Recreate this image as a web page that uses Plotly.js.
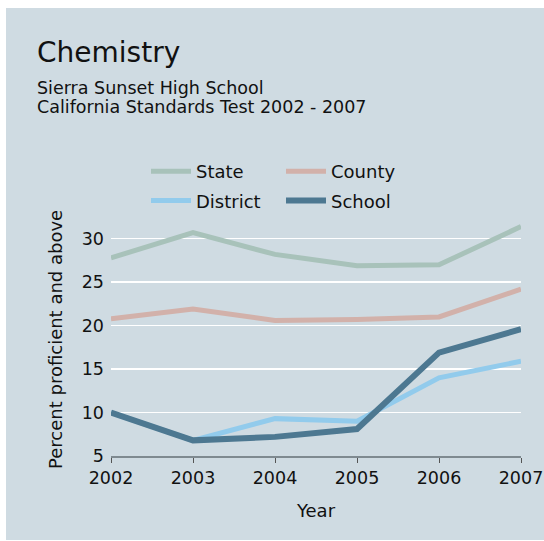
<!DOCTYPE html>
<html>
<head>
<meta charset="utf-8">
<script src="https://cdn.plot.ly/plotly-3.0.1.min.js"></script>
<style>
html,body{margin:0;padding:0;background:#ffffff;}
#chart{position:absolute;left:6px;top:8px;width:538px;height:532px;}
</style>
</head>
<body>
<div id="chart"></div>
<script>
const years = [2002, 2003, 2004, 2005, 2006, 2007];
const stateVals = [27.8, 30.7, 28.2, 26.9, 27.0, 31.4];
const countyVals = [20.8, 21.9, 20.6, 20.7, 21.0, 24.2];
const districtVals = [10.0, 6.8, 9.3, 9.0, 14.0, 15.9];
const schoolVals = [10.0, 6.8, 7.2, 8.1, 16.9, 19.6];
const seriesNames = ['State', 'County', 'District', 'School'];
const yTicks = [5, 10, 15, 20, 25, 30];

const colors = ['#a8c2ba', '#d2b1aa', '#92cbec', '#4d7891'];
const FONT = 'DejaVu Sans, sans-serif';

function tr(name, y, color, width, legend, group) {
  return {
    x: years, y: y, name: name, type: 'scatter', mode: 'lines',
    line: {color: color, width: width},
    legend: legend, legendgroup: group, hoverinfo: 'skip'
  };
}

const data = [
  tr(seriesNames[0], stateVals, colors[0], 5, 'legend', 'a'),
  tr(seriesNames[1], countyVals, colors[1], 5, 'legend2', 'c'),
  tr(seriesNames[2], districtVals, colors[2], 5, 'legend', 'b'),
  tr(seriesNames[3], schoolVals, colors[3], 6, 'legend2', 'd')
];

const legendBase = {
  xref: 'container', yref: 'container', xanchor: 'left', yanchor: 'top',
  bgcolor: 'rgba(0,0,0,0)', borderwidth: 0,
  font: {family: FONT, size: 18, color: '#111'},
  traceorder: 'grouped', tracegroupgap: 3, itemwidth: 40
};

const layout = {
  width: 538, height: 532,
  paper_bgcolor: '#cfdbe2', plot_bgcolor: '#cfdbe2',
  margin: {l: 105, r: 23, t: 209, b: 84, autoexpand: false},
  font: {family: FONT, size: 17, color: '#111'},
  showlegend: true,
  legend: Object.assign({}, legendBase, {x: 140/538, y: 1 - 145/532}),
  legend2: Object.assign({}, legendBase, {x: 275/538, y: 1 - 145/532}),
  xaxis: {
    range: [2002, 2007], tickvals: years, ticktext: years.map(String),
    showgrid: false, zeroline: false, automargin: false,
    showline: true, linecolor: '#7f8a90', linewidth: 1.5,
    ticks: 'outside', ticklen: 5, tickcolor: '#555', tickwidth: 1,
    tickfont: {family: FONT, size: 17.5, color: '#111'},
    title: {text: 'Year', font: {family: FONT, size: 18, color: '#111'}, standoff: 18},
    fixedrange: true
  },
  yaxis: {
    range: [5, 32.5], tickvals: yTicks,
    showgrid: true, gridcolor: '#ffffff', gridwidth: 1.5,
    zeroline: false, showline: false, ticks: '', automargin: false,
    ticklabelstandoff: 6,
    tickfont: {family: FONT, size: 17.5, color: '#111'},
    fixedrange: true
  },
  annotations: [
    {text: 'Chemistry', showarrow: false, xanchor: 'left', yanchor: 'top',
     font: {family: FONT, size: 28, color: '#111'}},
    {text: 'Sierra Sunset High School', showarrow: false, xanchor: 'left', yanchor: 'top',
     font: {family: FONT, size: 17.5, color: '#111'}},
    {text: 'California Standards Test 2002 - 2007', showarrow: false, xanchor: 'left', yanchor: 'top',
     font: {family: FONT, size: 17.5, color: '#111'}},
    {text: 'Percent proficient and above', showarrow: false, textangle: -90,
     xanchor: 'center', yanchor: 'middle',
     font: {family: FONT, size: 18, color: '#111'}}
  ]
};

// place annotations in container pixel coordinates
const W = 538, H = 532, L = 105, R = 23, T = 209, B = 84;
const pw = W - L - R, ph = H - T - B;
function px2paperX(px) { return (px - L) / pw; }
function px2paperY(py) { return 1 - (py - T) / ph; }
layout.annotations.forEach(a => { a.xref = 'paper'; a.yref = 'paper'; });
const pos = [[29, 26], [29, 68], [29, 87], [49, 332]];
pos.forEach((p, i) => {
  layout.annotations[i].x = px2paperX(p[0]);
  layout.annotations[i].y = px2paperY(p[1]);
});

Plotly.newPlot('chart', data, layout, {displayModeBar: false, staticPlot: true});
</script>
</body>
</html>
